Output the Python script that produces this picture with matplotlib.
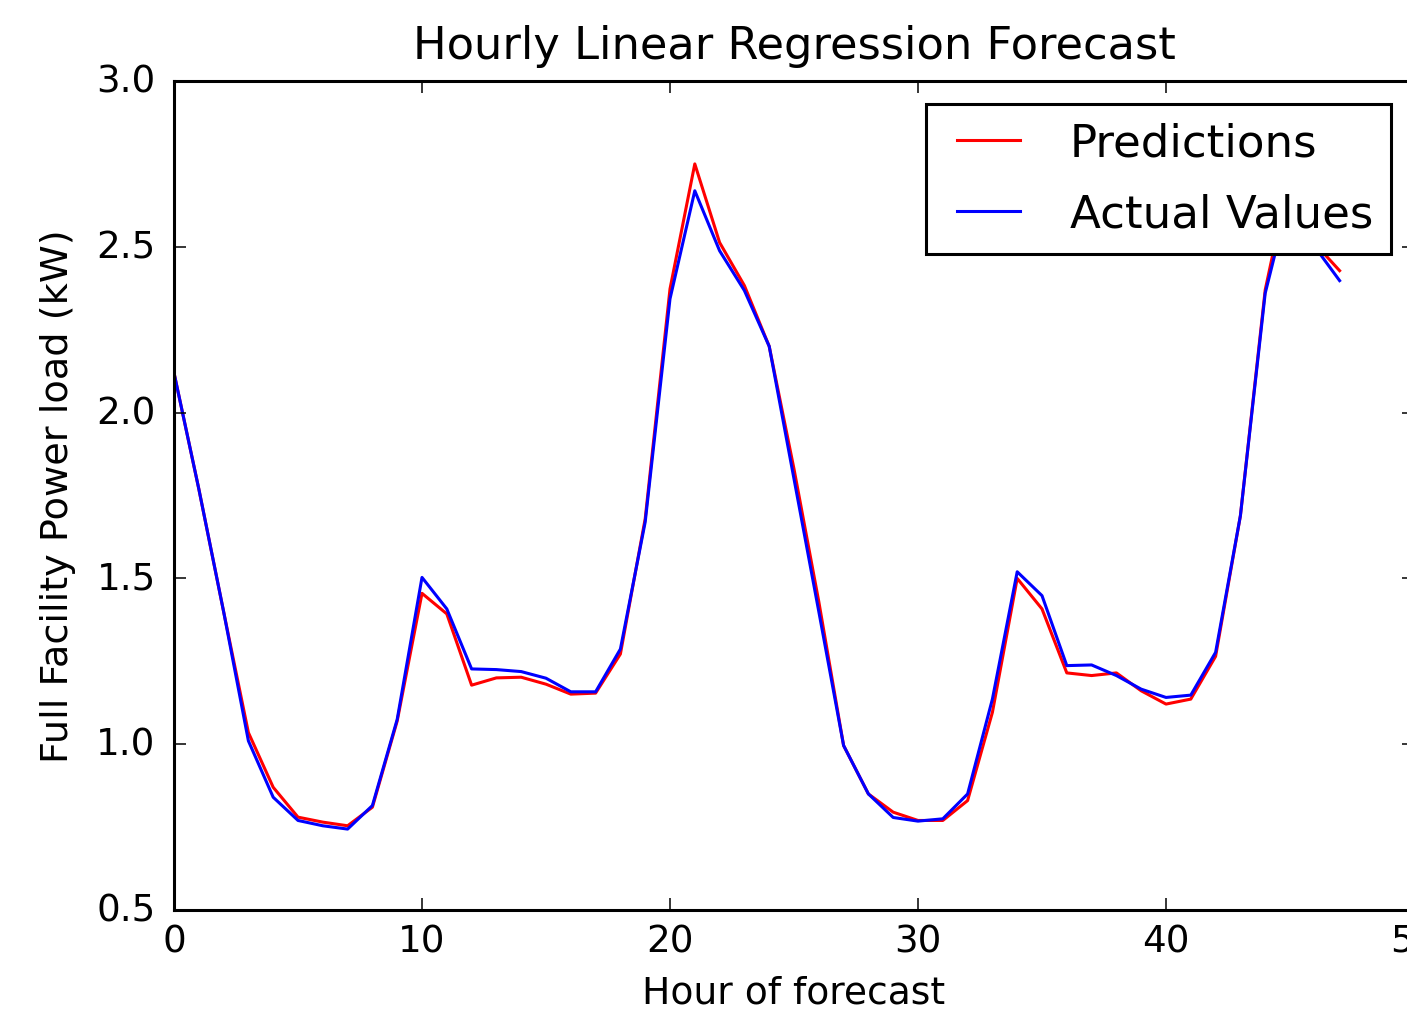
import matplotlib
matplotlib.use("Agg")
import matplotlib.pyplot as plt

hours = list(range(48))
predictions = [2.12, 1.77, 1.40, 1.035, 0.87, 0.78, 0.765, 0.754, 0.81, 1.07,
               1.455, 1.393, 1.178, 1.20, 1.202, 1.181, 1.151, 1.154, 1.272, 1.68,
               2.373, 2.75, 2.513, 2.383, 2.20, 1.83, 1.43, 0.996, 0.85, 0.795,
               0.77, 0.77, 0.83, 1.096, 1.50, 1.408, 1.215, 1.207, 1.215, 1.161,
               1.121, 1.136, 1.265, 1.689, 2.37, 2.72, 2.51, 2.428]
actual = [2.12, 1.77, 1.40, 1.01, 0.84, 0.77, 0.754, 0.744, 0.815, 1.075,
          1.503, 1.408, 1.227, 1.225, 1.219, 1.199, 1.158, 1.158, 1.287, 1.67,
          2.343, 2.669, 2.488, 2.368, 2.20, 1.80, 1.40, 0.996, 0.85, 0.779,
          0.768, 0.775, 0.85, 1.136, 1.52, 1.448, 1.237, 1.239, 1.207, 1.166,
          1.141, 1.148, 1.277, 1.689, 2.36, 2.66, 2.50, 2.398]

plt.style.use('classic')
plt.rcParams['font.size'] = 12.2
dpi = 220
fig = plt.figure(figsize=(1407 / dpi, 1012 / dpi), dpi=dpi, facecolor='white')
ax = fig.add_axes([174 / 1407, 101 / 1012, 1240 / 1407, 829 / 1012])
ax.plot(hours, predictions, color='red', lw=1.0, label='Predictions')
ax.plot(hours, actual, color='blue', lw=1.0, label='Actual Values')
ax.set_xlim(0, 50)
ax.set_ylim(0.5, 3.0)
ax.tick_params(axis='y', pad=6.0)
ax.set_title('Hourly Linear Regression Forecast', fontsize=14.65, pad=7.5)
ax.set_xlabel('Hour of forecast', fontsize=12.3)
ax.set_ylabel('Full Facility Power load (kW)', fontsize=12.5, labelpad=6.5)
ax.legend(loc='upper right', fontsize=14.75, labelspacing=0.62)
fig.savefig('out.png', dpi=dpi, facecolor='white')
